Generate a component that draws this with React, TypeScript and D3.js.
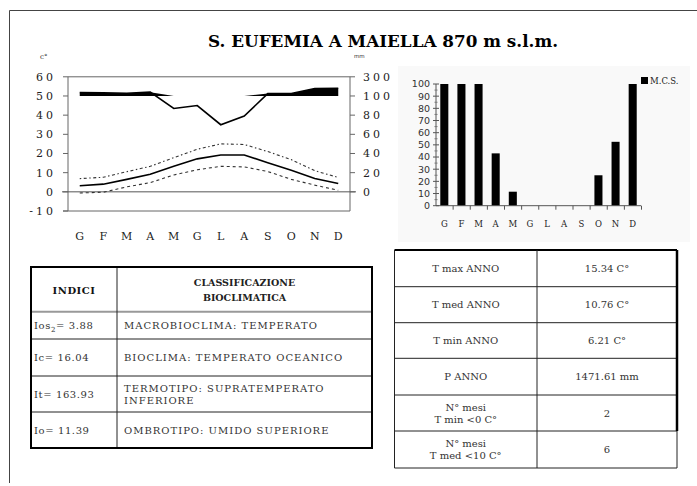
import * as d3 from 'd3'

// months (index based; labels repeat)
const MONTHS = ['G', 'F', 'M', 'A', 'M', 'G', 'L', 'A', 'S', 'O', 'N', 'D']

// precipitation (mm) and temperatures (C°)
const PREC = [136, 132, 128, 140, 87, 90, 70, 79, 125, 126, 178, 180]
const TMAX = [6.9, 7.6, 10.5, 13.3, 17.8, 22.2, 25.0, 24.7, 21.0, 16.8, 11.0, 7.5]
const TMED = [3.2, 4.0, 6.5, 9.2, 13.4, 17.2, 19.2, 19.2, 15.2, 11.2, 7.0, 4.3]
const TMIN = [-0.6, -0.2, 2.6, 4.8, 8.8, 11.5, 13.3, 13.0, 10.6, 6.5, 3.5, 0.8]
const T_TICKS = [-10, 0, 10, 20, 30, 40, 50, 60]
const P_TICKS = [0, 20, 40, 60, 80, 100, 300]

// M.C.S. bars
const MCS = [100, 100, 100, 43, 11.5, 0, 0, 0, 0, 25, 52.5, 100]
const MCS_TICKS = [0, 10, 20, 30, 40, 50, 60, 70, 80, 90, 100]

// tables
const INDICI = ['Ios|2|= 3.88', 'Ic= 16.04', 'It= 163.93', 'Io= 11.39']
const CLASSI = [
  ['MACROBIOCLIMA: TEMPERATO'],
  ['BIOCLIMA: TEMPERATO OCEANICO'],
  ['TERMOTIPO: SUPRATEMPERATO', 'INFERIORE'],
  ['OMBROTIPO: UMIDO SUPERIORE'],
]
const RIGHT_LABELS = [
  ['T max ANNO'], ['T med ANNO'], ['T min ANNO'], ['P ANNO'],
  ['N° mesi', 'T min <0 C°'], ['N° mesi', 'T med <10 C°'],
]
const RIGHT_VALUES = ['15.34 C°', '10.76 C°', '6.21 C°', '1471.61 mm', '2', '6']

const SERIF = '"DejaVu Serif", serif'
const SANS = '"DejaVu Sans", sans-serif'

function Thermo() {
  const idx = d3.range(12)
  const x = d3.scaleBand<number>().domain(idx).range([68, 350])
  const cx = (i: number) => (x(i) as number) + x.bandwidth() / 2
  const yT = d3.scaleLinear().domain([-10, 60]).range([211, 76.8])
  const yP = d3.scaleLinear().domain([0, 100, 300]).range([yT(0), yT(50), yT(60)])

  const tline = d3.line<number>().x((_, i) => cx(i)).y(d => yT(d))
  const pline = d3.line<number>().x((_, i) => cx(i)).y(d => yP(d))
  const parea = d3.area<number>()
    .x((_, i) => cx(i))
    .y0(yP(100))
    .y1(d => yP(Math.max(d, 100)))

  const [L, R] = x.range()
  return (
    <g>
      <text x={40} y={59} fontSize={7} fontFamily={SERIF} fill="#333">c°</text>
      <text x={354} y={58} fontSize={5.5} fontFamily={SANS} fill="#333">mm</text>
      {/* frame */}
      <line x1={L} x2={R} y1={yT(60)} y2={yT(60)} stroke="#666" />
      <line x1={L} x2={L} y1={yT(60)} y2={yT(-10)} stroke="#666" />
      <line x1={R} x2={R} y1={yT(60)} y2={yT(-10)} stroke="#666" />
      <line x1={L - 5} x2={R} y1={yT(-10)} y2={yT(-10)} stroke="#666" />
      <line x1={L - 6} x2={R + 6} y1={yT(0)} y2={yT(0)} stroke="#555" />
      {T_TICKS.map(t => (
        <g key={'t' + t}>
          <line x1={L - 5} x2={L} y1={yT(t)} y2={yT(t)} stroke="#666" />
          <text x={56} y={yT(t)} dy="0.36em" textAnchor="end" fontSize={11}
            letterSpacing={3} fontFamily={SERIF} fill="#222">{t}</text>
        </g>
      ))}
      {P_TICKS.map(p => (
        <g key={'p' + p}>
          <line x1={R} x2={R + 5} y1={yP(p)} y2={yP(p)} stroke="#666" />
          <text x={363} y={yP(p)} dy="0.36em" fontSize={11}
            letterSpacing={3} fontFamily={SERIF} fill="#222">{p}</text>
        </g>
      ))}
      {idx.map(i => (
        <text key={'m' + i} x={cx(i)} y={240} textAnchor="middle" fontSize={11}
          fontFamily={SERIF} fill="#222">{MONTHS[i]}</text>
      ))}
      <path d={parea(PREC) ?? ''} fill="#000" />
      <path d={pline(PREC) ?? ''} fill="none" stroke="#000" strokeWidth={1.6} />
      <path d={tline(TMAX) ?? ''} fill="none" stroke="#333" strokeWidth={1.1} strokeDasharray="1.5,2.5,3,2.5" />
      <path d={tline(TMIN) ?? ''} fill="none" stroke="#333" strokeWidth={1.1} strokeDasharray="3,3" />
      <path d={tline(TMED) ?? ''} fill="none" stroke="#000" strokeWidth={1.6} />
    </g>
  )
}

function McsChart() {
  const idx = d3.range(12)
  const x = d3.scaleBand<number>().domain(idx).range([436, 641]).paddingInner(0.53).paddingOuter(0.25)
  const y = d3.scaleLinear().domain([0, 100]).range([205.7, 84])
  const step = x.step()
  return (
    <g>
      <rect x={398} y={66} width={292} height={176} fill="#f9f9f9" />
      {MCS.map((v, i) => (
        <rect key={i} x={x(i)} y={y(v)} width={x.bandwidth()} height={y(0) - y(v)} fill="#000" />
      ))}
      <line x1={436} x2={436} y1={y(100)} y2={y(0)} stroke="#555" />
      <line x1={436} x2={641} y1={y(0)} y2={y(0)} stroke="#555" />
      {MCS_TICKS.map(t => (
        <g key={t}>
          <line x1={433} x2={439} y1={y(t)} y2={y(t)} stroke="#555" />
          {t < 100 && <line x1={434.5} x2={437.5} y1={y(t + 5)} y2={y(t + 5)} stroke="#777" />}
          <text x={430} y={y(t)} dy="0.36em" textAnchor="end" fontSize={9.5}
            fontFamily={SANS} fill="#333">{t}</text>
        </g>
      ))}
      {idx.map(i => (
        <g key={'x' + i}>
          <line x1={436 + (i + 1) * step - step * 0.25 + step * 0.25} x2={436 + (i + 1) * step}
            y1={y(0)} y2={y(0) + 4} stroke="#555" />
          <text x={(x(i) as number) + x.bandwidth() / 2} y={227} textAnchor="middle"
            fontSize={8.5} fontFamily={SERIF} fill="#222">{MONTHS[i]}</text>
        </g>
      ))}
      <rect x={641} y={77} width={7} height={7} fill="#000" />
      <text x={650} y={84} fontSize={8.5} fontFamily={SERIF} fill="#222">M.C.S.</text>
    </g>
  )
}

function LeftTable() {
  const x0 = 31, x1 = 117, x2 = 372
  const rows = [267, 311.7, 339, 376, 412, 448]
  return (
    <g>
      {rows.slice(2, 5).map(r => (
        <line key={r} x1={x0} x2={x2} y1={r} y2={r} stroke="#222" />
      ))}
      <line x1={x0} x2={x2} y1={rows[1]} y2={rows[1]} stroke="#999" strokeWidth={2} />
      <line x1={x1} x2={x1} y1={rows[0]} y2={rows[5]} stroke="#222" />
      <rect x={x0} y={rows[0]} width={x2 - x0} height={rows[5] - rows[0]} fill="none" stroke="#000" strokeWidth={2} />
      <text x={(x0 + x1) / 2} y={294} textAnchor="middle" fontSize={10} fontWeight="bold"
        letterSpacing={0.5} fontFamily={SERIF} fill="#111">INDICI</text>
      <text x={(x1 + x2) / 2} y={286} textAnchor="middle" fontSize={9.5} fontWeight="bold"
        fontFamily={SERIF} fill="#222">CLASSIFICAZIONE</text>
      <text x={(x1 + x2) / 2} y={301} textAnchor="middle" fontSize={9.5} fontWeight="bold"
        fontFamily={SERIF} fill="#222">BIOCLIMATICA</text>
      {INDICI.map((s, i) => {
        const cy = (rows[i + 1] + rows[i + 2]) / 2
        const parts = s.split('|')
        return (
          <text key={'i' + i} x={34} y={cy} dy="0.36em" fontSize={10} letterSpacing={0.6}
            fontFamily={SERIF} fill="#333">
            {parts.length === 3 ? (
              <>
                {parts[0]}
                <tspan fontSize={7} dy={3}>{parts[1]}</tspan>
                <tspan dy={-3}>{parts[2]}</tspan>
              </>
            ) : s}
          </text>
        )
      })}
      {CLASSI.map((lines, i) => {
        const cy = (rows[i + 1] + rows[i + 2]) / 2
        return lines.map((l, j) => (
          <text key={'c' + i + j} x={124} y={cy + (j - (lines.length - 1) / 2) * 12} dy="0.36em"
            fontSize={10} letterSpacing={1} fontFamily={SERIF} fill="#333">{l}</text>
        ))
      })}
    </g>
  )
}

function RightTable() {
  const x0 = 394.5, x1 = 537, x2 = 677
  const rows = [250, 286.7, 322.7, 358.3, 395, 431, 468]
  return (
    <g>
      {rows.slice(1, 6).map(r => (
        <line key={r} x1={x0} x2={x2} y1={r} y2={r} stroke="#222" />
      ))}
      <line x1={x0} x2={x2} y1={rows[0]} y2={rows[0]} stroke="#000" strokeWidth={2} />
      <line x1={x0} x2={x2} y1={rows[6]} y2={rows[6]} stroke="#222" />
      <line x1={x0} x2={x0} y1={rows[0]} y2={rows[6]} stroke="#222" />
      <line x1={x1} x2={x1} y1={rows[0]} y2={rows[6]} stroke="#222" />
      <line x1={x2} x2={x2} y1={rows[0]} y2={rows[5]} stroke="#000" strokeWidth={2.5} />
      <line x1={x2} x2={x2} y1={rows[5]} y2={rows[6]} stroke="#222" />
      {RIGHT_LABELS.map((lines, i) => {
        const cy = (rows[i] + rows[i + 1]) / 2
        return lines.map((l, j) => (
          <text key={'l' + i + j} x={(x0 + x1) / 2} y={cy + (j - (lines.length - 1) / 2) * 12}
            dy="0.36em" textAnchor="middle" fontSize={10} fontFamily={SERIF} fill="#333">{l}</text>
        ))
      })}
      {RIGHT_VALUES.map((v, i) => (
        <text key={'v' + i} x={(x1 + x2) / 2} y={(rows[i] + rows[i + 1]) / 2} dy="0.36em"
          textAnchor="middle" fontSize={10} fontFamily={SERIF} fill="#333">{v}</text>
      ))}
    </g>
  )
}

export default function App() {
  return (
    <div style={{ position: 'absolute', left: 0, top: 0 }}>
      <svg width={697} height={486} style={{ display: 'block', background: '#fff' }}>
        <line x1={9.5} x2={697} y1={10.5} y2={10.5} stroke="#444" />
        <line x1={9.5} x2={9.5} y1={10.5} y2={483} stroke="#444" />
        <text x={208} y={47} fontSize={16.5} fontWeight="bold" fontFamily={SERIF}
          textLength={350} lengthAdjust="spacingAndGlyphs" fill="#000">
          S. EUFEMIA A MAIELLA 870 m s.l.m.
        </text>
        <Thermo />
        <McsChart />
        <LeftTable />
        <RightTable />
      </svg>
    </div>
  )
}
